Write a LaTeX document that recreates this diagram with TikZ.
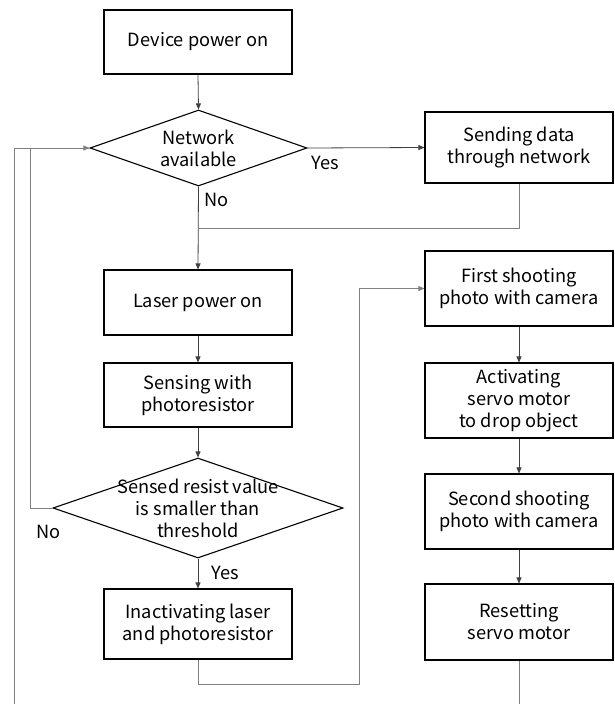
\documentclass[tikz,border=0pt]{standalone}
\usepackage{fontspec}
\setmainfont{Noto Sans CJK KR}
\usetikzlibrary{shapes.geometric,arrows.meta}
\begin{document}
\begin{tikzpicture}[x=1pt,y=-1pt,
  font=\fontsize{18.2}{22}\selectfont,
  boxnode/.style={draw=black,line width=1.1pt,minimum width=188pt,inner sep=0pt,align=center},
  dia/.style={draw=black,line width=1.1pt,shape=diamond,inner sep=0pt},
  conn/.style={draw=black!75,line width=0.8pt},
  loopline/.style={draw=black!50,line width=0.8pt},
  arr/.style={-{Triangle[length=6pt,width=5pt]}},
  lbl/.style={inner sep=0pt}]
\useasboundingbox (0,0) rectangle (614,704);
\node[boxnode,minimum height=64pt] (dev) at (198,42) {Device power on};
\node[dia,minimum width=217pt,minimum height=76pt] (net) at (198.5,148) {};
\node[lbl,align=center] (nett) at (198.5,148) {Network\\available};
\node[boxnode,minimum height=71pt] (send) at (519,147.5) {Sending data\\through network};
\node[boxnode,minimum height=65pt] (laser) at (198,302.5) {Laser power on};
\node[boxnode,minimum height=64pt] (sense) at (198,395) {Sensing with\\photoresistor};
\node[dia,minimum width=290pt,minimum height=100pt] (sres) at (198,508) {};
\node[lbl,align=center] (srest) at (198,508) {Sensed resist value\\is smaller than\\threshold};
\node[boxnode,minimum height=70pt] (inact) at (198,624) {Inactivating laser\\and photoresistor};
\node[boxnode,minimum height=75pt] (first) at (519,288.5) {First shooting\\photo with camera};
\node[boxnode,minimum height=75pt] (act) at (519,400.5) {Activating\\servo motor\\to drop object};
\node[boxnode,minimum height=75pt] (second) at (519,511.5) {Second shooting\\photo with camera};
\node[boxnode,minimum height=76pt] (reset) at (519,622) {Resetting\\servo motor};
\coordinate (j1) at (198,228);
\coordinate (c1) at (30,508);
\coordinate (bl) at (14,704);
\coordinate (c2) at (359,684);
\coordinate (br) at (519,704);
\node[lbl,anchor=west] (yes1) at (311,163) {Yes};
\node[lbl,anchor=west] (no1) at (204,200) {No};
\node[lbl,anchor=west] (no2) at (36,532) {No};
\node[lbl,anchor=west] (yes2) at (211,573) {Yes};
\draw[conn,arr] (dev.south) -- (net.north);
\draw[conn,arr] (net.east) -- (send.west);
\draw[conn,arr] (net.south) -- (laser.north);
\draw[loopline] (send.south) |- (j1);
\draw[conn,arr] (laser.south) -- (sense.north);
\draw[conn,arr] (sense.south) -- (sres.north);
\draw[loopline,arr] (sres.west) -- (c1) |- (net.west);
\draw[loopline] (bl) |- (net.west);
\draw[conn,arr] (sres.south) -- (inact.north);
\draw[loopline,arr] (inact.south) |- (c2) |- (first.west);
\draw[conn,arr] (first.south) -- (act.north);
\draw[conn,arr] (act.south) -- (second.north);
\draw[conn,arr] (second.south) -- (reset.north);
\draw[loopline] (reset.south) -- (br);
\end{tikzpicture}
\end{document}
